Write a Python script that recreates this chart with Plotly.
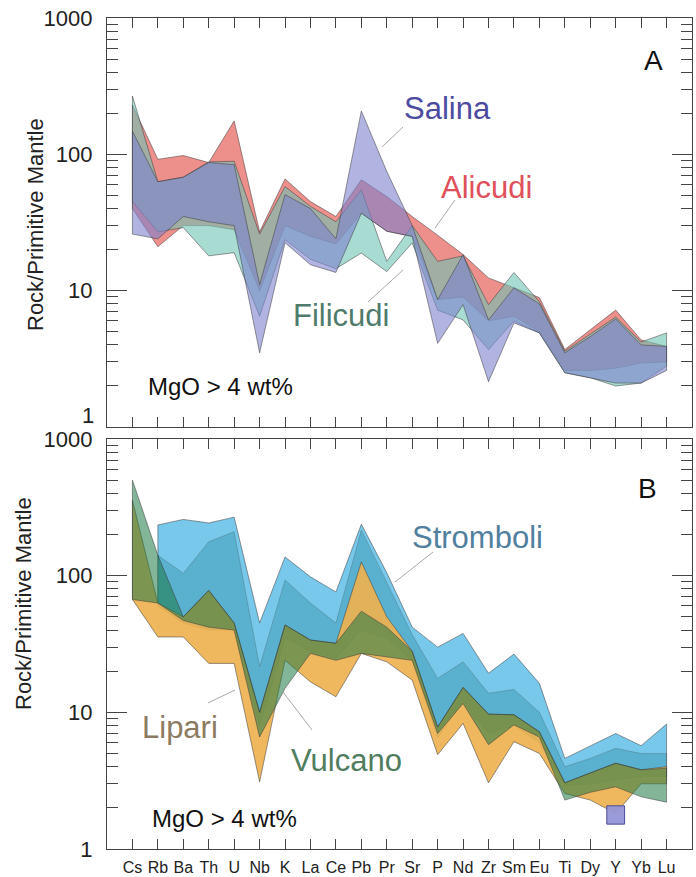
import plotly.graph_objects as go

# ---------------------------------------------------------------
# Primitive-mantle normalised incompatible-element envelopes
# Aeolian Islands, mafic rocks (MgO > 4 wt%)
# ---------------------------------------------------------------
elements = ["Cs", "Rb", "Ba", "Th", "U", "Nb", "K", "La", "Ce", "Pb", "Pr",
            "Sr", "P", "Nd", "Zr", "Sm", "Eu", "Ti", "Dy", "Y", "Yb", "Lu"]

# Panel A: western islands
alicudi_max = [230, 92, 98, 87, 176, 27, 66, 45, 35, 65, 49, 35, 25.5, 18.4, 12.4, 10.5, 8.9, 3.7, 5.2, 7.2, 4.35, 3.9]
alicudi_min = [40, 21, 30, 30, 28, 10, 30, 25, 22, 37, 27.3, 25, 8.6, 9.0, 6.0, 6.5, 5.0, 2.6, 2.6, 2.7, 2.95, 3.0]

filicudi_max = [268, 63, 68, 88, 89, 26, 58, 41.5, 32, 55, 16.4, 30, 16.4, 18, 7.9, 13.6, 8.3, 3.6, 4.8, 6.4, 4.2, 4.9]
filicudi_min = [45, 27, 29, 18, 19, 6.5, 23.7, 17, 14.5, 18.9, 13.8, 22.4, 7.2, 6.1, 3.7, 6.0, 4.9, 2.5, 2.3, 2.0, 2.1, 2.8]

salina_max = [148, 63, 68, 87, 84, 11.1, 50.7, 40, 24, 208, 75, 30, 8.6, 18.4, 6.1, 10.5, 8.0, 3.5, 4.6, 6.2, 4.0, 3.9]
salina_min = [26, 24, 35, 32, 30, 3.5, 22.5, 15.5, 13.6, 37, 27.3, 25, 4.1, 7.9, 2.15, 5.8, 4.9, 2.5, 2.3, 2.1, 2.1, 2.6]

# Panel B: central/eastern islands (no Cs data for Stromboli)
stromboli_max = [None, 235, 258, 243, 268, 45, 137, 98, 76, 238, 105, 42, 30, 37.8, 19.3, 26.7, 16.3, 4.6, 5.7, 7.0, 5.7, 8.2]
stromboli_core_max = [None, 141, 104, 177, 210, 21.6, 93, 63, 45, 215, 90, 37, 17.7, 23.4, 13.8, 14.7, 10, 4.0, 4.6, 5.45, 5.0, 5.0]
stromboli_min = [None, 60, 45, 40, 40, 8, 35, 28, 25, 40, 35, 24, 6.5, 12, 7, 8, 6, 2.9, 3.0, 3.2, 3.4, 3.4]

lipari_max = [357, 63, 50, 78, 45, 10, 43.6, 33.8, 32, 126, 50, 28, 7.8, 15.2, 9.7, 9.6, 7.2, 3.05, 3.6, 4.24, 3.8, 4.0]
lipari_min = [67, 35.6, 35.6, 22.8, 22.8, 3.1, 24, 16.7, 13, 27, 23.4, 17.2, 4.9, 8.3, 3.05, 6.1, 5.0, 2.55, 2.28, 1.82, 3.0, 3.0]

vulcano_max = [500, 141, 50, 78, 45, 10, 43.6, 33.8, 32, 55, 42, 28, 7.8, 15.2, 9.7, 9.6, 7.2, 3.05, 3.6, 4.24, 3.8, 3.9]
vulcano_min = [67, 63, 47, 42, 40, 6.6, 15, 27, 24, 27, 25.4, 24, 7.0, 11.6, 5.8, 8.1, 6.6, 2.28, 2.6, 2.85, 2.41, 2.2]

# single Y analysis plotted as a box symbol in panel B
y_box_element = "Y"
y_box_range = [1.52, 2.07]

y_tick_vals = [1, 10, 100, 1000]
y_tick_text = ["1", "10", "100", "1000"]

FONT = "Liberation Sans, Arial, sans-serif"
EDGE = "rgba(60,60,60,0.65)"

W, H = 696, 877
ML, MR, MT, MB = 107, 4, 18, 28
PW, PH = W - ML - MR, H - MT - MB


def px(xp, yp):
    """pixel position -> paper coordinates"""
    return (xp - ML) / PW, (H - MB - yp) / PH


def band(hi, lo, fill, xa, ya, edge=EDGE):
    pts = [(i, h, l) for i, (h, l) in enumerate(zip(hi, lo)) if h is not None]
    xs = [p[0] for p in pts] + [p[0] for p in reversed(pts)] + [pts[0][0]]
    ys = [p[1] for p in pts] + [p[2] for p in reversed(pts)] + [pts[0][1]]
    return go.Scatter(x=xs, y=ys, mode="lines", fill="toself", fillcolor=fill,
                      line=dict(color=edge, width=0.8), hoverinfo="skip",
                      showlegend=False, xaxis=xa, yaxis=ya)


fig = go.Figure()

# panel A (top)
fig.add_trace(band(alicudi_max, alicudi_min, "rgba(230,95,90,0.70)", "x2", "y2"))
fig.add_trace(band(filicudi_max, filicudi_min, "rgba(110,195,180,0.60)", "x2", "y2"))
fig.add_trace(band(salina_max, salina_min, "rgba(125,130,205,0.60)", "x2", "y2"))

# panel B (bottom)
fig.add_trace(band(stromboli_max, stromboli_min, "rgba(95,190,230,0.85)", "x", "y"))
fig.add_trace(band(stromboli_core_max, stromboli_min, "rgba(30,130,150,0.32)", "x", "y",
                   edge="rgba(60,60,60,0.3)"))
fig.add_trace(band(lipari_max, lipari_min, "rgba(238,178,80,0.92)", "x", "y"))
fig.add_trace(band(vulcano_max, vulcano_min, "rgba(30,120,70,0.55)", "x", "y"))

# box symbol
bi = elements.index(y_box_element)
hw = 0.35
fig.add_trace(go.Scatter(
    x=[bi - hw, bi + hw, bi + hw, bi - hw, bi - hw],
    y=[y_box_range[0], y_box_range[0], y_box_range[1], y_box_range[1], y_box_range[0]],
    mode="lines", fill="toself", fillcolor="rgba(150,150,215,0.95)",
    line=dict(color="#4a4a9a", width=1), hoverinfo="skip", showlegend=False,
    xaxis="x", yaxis="y"))

idx = list(range(len(elements)))
minor_vals = [m * 10 ** e for e in range(3) for m in range(2, 10)]

xcommon = dict(range=[-1, len(elements)], tickmode="array", tickvals=idx,
               ticktext=elements, ticks="inside", ticklen=10, tickwidth=1,
               tickcolor="#444", showline=True, linecolor="#444", linewidth=1.3,
               mirror="allticks", showgrid=False, zeroline=False, automargin=False)
ycommon = dict(type="log", range=[0, 3], tickmode="array", ticks="inside",
               ticklen=20, tickwidth=1, tickcolor="#444", showline=True,
               linecolor="#444", linewidth=1.3, mirror="allticks",
               showgrid=False, zeroline=False, automargin=False,
               tickfont=dict(family=FONT, size=22, color="#222"),
               ticklabelstandoff=9,
               minor=dict(tickmode="array", tickvals=minor_vals, ticks="inside",
                          ticklen=11, tickwidth=1, tickcolor="#444", showgrid=False))

yb_top = 410 / PH
ya_bot = 422 / PH
fig.update_layout(
    width=W, height=H, margin=dict(l=ML, r=MR, t=MT, b=MB, autoexpand=False),
    paper_bgcolor="white", plot_bgcolor="white",
    xaxis=dict(domain=[0, 1], anchor="y",
               tickfont=dict(family=FONT, size=16, color="#222"),
               ticklabelstandoff=4, **xcommon),
    yaxis=dict(domain=[0, yb_top], anchor="x", tickvals=y_tick_vals,
               ticktext=y_tick_text, **ycommon),
    xaxis2=dict(domain=[0, 1], anchor="y2", showticklabels=False, **xcommon),
    # the "1" of the upper panel is set slightly higher as a separate text
    yaxis2=dict(domain=[ya_bot, 1], anchor="x2", tickvals=y_tick_vals,
                ticktext=[""] + y_tick_text[1:], **ycommon),
    showlegend=False,
)

annotations = []


def label(text, xp, yp, color, size, angle=0, xanchor="center"):
    xx, yy = px(xp, yp)
    annotations.append(dict(text=text, x=xx, y=yy, xref="paper", yref="paper",
                            xanchor=xanchor, yanchor="middle", showarrow=False,
                            textangle=angle,
                            font=dict(family=FONT, size=size, color=color)))


# panel A texts
label("Salina", 447, 109, "#4b4ba0", 31)
label("Alicudi", 486, 188, "#e0505a", 31)
label("Filicudi", 341, 316, "#4e7b6b", 31)
label("A", 653, 60, "#111", 28)
label("MgO > 4 wt%", 220, 386, "#111", 24)
label("Rock/Primitive Mantle", 35, 225, "#222", 22, -90)
label(y_tick_text[0], 96, 415, "#222", 22, xanchor="right")

# panel B texts
label("Stromboli", 477, 537, "#50809e", 31)
label("Lipari", 180, 727, "#8c7b60", 31)
label("Vulcano", 346, 760, "#4f7d5e", 31)
label("B", 647, 488, "#111", 28)
label("MgO > 4 wt%", 224, 818, "#111", 24)
label("Rock/Primitive Mantle", 23, 604, "#222", 22, -90)

fig.update_layout(annotations=annotations)

# leader lines
leaders = [((403, 127), (382, 147)), ((455, 200), (435, 228)), ((403, 270), (368, 302)),
           ((433, 552), (395, 582)), ((208, 703), (235, 690)), ((312, 730), (283, 692))]
shapes = []
for (x0p, y0p), (x1p, y1p) in leaders:
    x0, y0 = px(x0p, y0p)
    x1, y1 = px(x1p, y1p)
    shapes.append(dict(type="line", xref="paper", yref="paper", x0=x0, y0=y0,
                       x1=x1, y1=y1, line=dict(color="rgba(120,120,120,0.8)", width=0.8)))
fig.update_layout(shapes=shapes)

fig.write_html("out.html")
